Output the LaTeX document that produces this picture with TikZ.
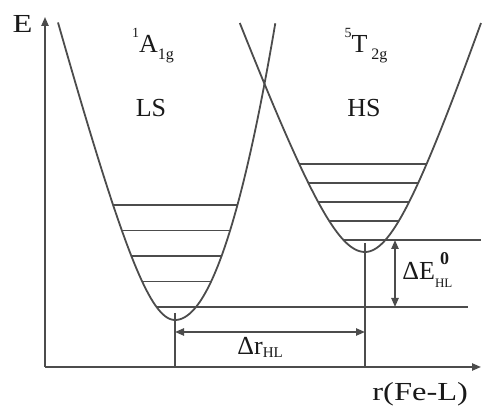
\documentclass[tikz,border=0pt]{standalone}
\usepackage{fontspec}
\setmainfont{Liberation Serif}
\newfontfamily\widefont{Liberation Serif}[FakeStretch=1.25]
\usetikzlibrary{arrows.meta}

\begin{document}
\begin{tikzpicture}[x=0.5pt, y=0.5pt,
    curve/.style={draw=black!70, line width=0.9pt},
    lbl/.style={font=\fontsize{13}{15}\selectfont, text=black!90, inner sep=0pt, anchor=base},
    tip/.style={-{Triangle[length=4.5pt,width=3.6pt]}},
    tips/.style={{Triangle[length=4.5pt,width=3.6pt]}-{Triangle[length=4.5pt,width=3.6pt]}}]
    \useasboundingbox (0,0) rectangle (483,406);

    % Axes
    \coordinate (O) at (45,39);
    \draw[curve, tip] (O) -- (45,389) coordinate (Etop);
    \draw[curve, tip] (O) -- (481,39) coordinate (rend);

    % Potential wells
    \coordinate (LSmin) at (175,86);
    \coordinate (HSmin) at (365,154);
    \draw[curve] plot[domain=117:0, samples=50] ({175-\x},{86+182*(sqrt(1+(\x/48)^2)-1)})
        -- plot[domain=0:100.3, samples=50] ({175+\x},{86+0.0295*\x^2});
    \draw[curve] plot[domain=125.2:0, samples=50] ({365-\x},{154+135*(sqrt(1+(\x/50)^2)-1)})
        -- plot[domain=0:116, samples=50] ({365+\x},{154+150*(sqrt(1+(\x/50)^2)-1)});

    % Vibrational levels
    \foreach \h in {38.5,64,89.5,115}
        \draw[curve] ({175-48*sqrt((1+\h/182)^2-1)},{86+\h}) -- ({175+sqrt(\h/0.0295)},{86+\h});
    \foreach \h in {31,50,69,88}
        \draw[curve] ({365-50*sqrt((1+\h/135)^2-1)},{154+\h}) -- ({365+50*sqrt((1+\h/150)^2-1)},{154+\h});

    % Zero-point levels, carried to the right
    \coordinate (LS0) at ({175-48*sqrt((1+13/182)^2-1)},99);
    \coordinate (HS0) at ({365-50*sqrt((1+12/135)^2-1)},166);
    \draw[curve] (LS0) -- (468,99) coordinate (LSend);
    \draw[curve] (HS0) -- (481,166) coordinate (HSend);

    % Equilibrium distances
    \draw[curve] ([yshift=3.5pt]LSmin) -- (LSmin |- O);
    \draw[curve] ([yshift=4.5pt]HSmin) -- (HSmin |- O);
    \coordinate (dr) at (0,74);
    \coordinate (dE) at (395,0);
    \draw[curve, tips] (LSmin |- dr) -- (HSmin |- dr);
    \draw[curve, tips] (dE |- HS0) -- (dE |- LS0);

    % Labels
    \node[lbl] (Elbl) at (22.5,373) {\widefont E};
    \node[lbl] (Alg) at (153,353) {\raisebox{7.5pt}{\fontsize{7}{7}\selectfont 1}A\raisebox{-3.5pt}{\fontsize{8}{8}\selectfont 1g}};
    \node[lbl] (LS) at (151,289) {LS};
    \node[lbl] (Ttg) at (366,353) {\raisebox{7.5pt}{\fontsize{7}{7}\selectfont 5}T\hspace{2pt}\raisebox{-3.5pt}{\fontsize{8}{8}\selectfont 2g}};
    \node[lbl] (HS) at (364,289) {HS};
    \node[lbl, anchor=base west] (dElbl) at (402,126) {ΔE\rlap{\hspace{2.5pt}\raisebox{7.5pt}{\fontsize{9}{9}\selectfont\bfseries 0}}\raisebox{-4pt}{\fontsize{6.5}{7}\selectfont HL}};
    \node[lbl, anchor=base west] (drlbl) at (237,51) {Δr\raisebox{-1.5pt}{\fontsize{7.5}{8}\selectfont HL}};
    \node[lbl, anchor=base west] (rlbl) at (372,5) {\widefont r(Fe-L)};
\end{tikzpicture}
\end{document}
